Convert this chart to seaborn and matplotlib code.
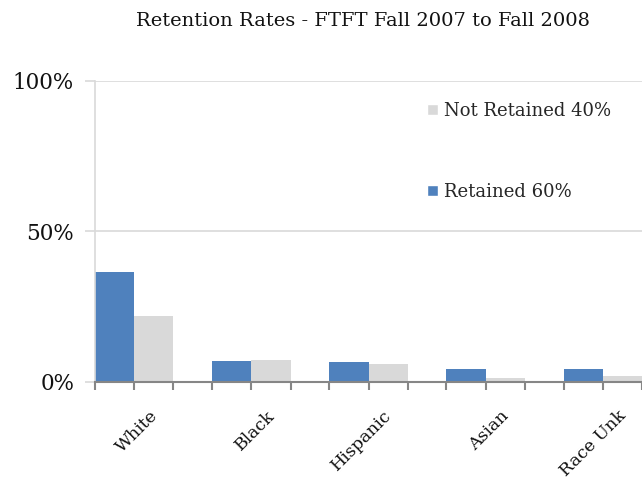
import matplotlib
matplotlib.use("Agg")
import matplotlib.pyplot as plt
import seaborn as sns
import pandas as pd
import numpy as np
from matplotlib.patches import Patch

categories = ["White", "Black", "Hispanic", "Asian", "Race Unk"]
retained = [36.5, 7.0, 6.8, 4.4, 4.3]
not_retained = [22.0, 7.4, 6.0, 1.3, 2.0]
series_names = ["Retained 60%", "Not Retained 40%"]
y_ticks = [0, 50, 100]
y_labels = ["0%", "50%", "100%"]

sns.set_theme(style="white")
plt.rcParams['font.family'] = ['DejaVu Serif']

df = pd.DataFrame({
    "Category": categories * 2,
    "Value": retained + not_retained,
    "Series": [series_names[0]] * len(categories) + [series_names[1]] * len(categories),
})

blue = "#4f81bd"
gray = "#d9d9d9"

fig = plt.figure(figsize=(6.42, 4.82), dpi=100)
ax = fig.add_axes([0.148, 0.2075, 0.852, 0.6245])

sns.barplot(data=df, x="Category", y="Value", hue="Series", order=categories,
            hue_order=series_names, palette=[blue, gray], width=0.67,
            gap=0, ax=ax, legend=False, saturation=1, edgecolor="none")

ax.set_xlim(-0.335, 4.275)
ax.set_ylim(0, 100)
ax.set_xlabel("")
ax.set_ylabel("")

# y axis
ax.set_yticks(y_ticks)
ax.set_yticklabels(y_labels, fontsize=15.5, color="#111111")
ax.yaxis.grid(True, color="#d9d9d9", linewidth=1.2)
ax.set_axisbelow(True)
ax.tick_params(axis="y", length=7, color="#d9d9d9", width=1.2, pad=8, left=True)

# x axis
n = len(categories)
minor = sorted(set(np.round(np.concatenate([np.arange(n) - 0.335, np.arange(n), np.arange(n) + 0.335]), 3)))
ax.set_xticks(np.arange(n) + 0.23)
ax.set_xticklabels(categories, rotation=45, ha="right", fontsize=12.5, color="#111111")
ax.set_xticks(minor, minor=True)
ax.tick_params(axis="x", which="major", length=0, pad=18)
ax.tick_params(axis="x", which="minor", length=6, color="#868686", width=1.5, bottom=True)

for s in ["top", "right"]:
    ax.spines[s].set_visible(False)
ax.spines["left"].set_color("#d9d9d9")
ax.spines["left"].set_linewidth(1.2)
ax.spines["bottom"].set_color("#868686")
ax.spines["bottom"].set_linewidth(1.5)

handles = [Patch(facecolor=gray, label=series_names[1]),
           Patch(facecolor=blue, label=series_names[0])]
ax.legend(handles=handles, loc="upper left", bbox_to_anchor=(0.578, 0.985),
          frameon=False, fontsize=13, handlelength=0.6, handleheight=0.6,
          handletextpad=0.3, labelspacing=3.5)

fig.suptitle("Retention Rates - FTFT Fall 2007 to Fall 2008", x=0.565, y=0.975,
             fontsize=14, color="#111111")

fig.savefig("out.png", dpi=100)
